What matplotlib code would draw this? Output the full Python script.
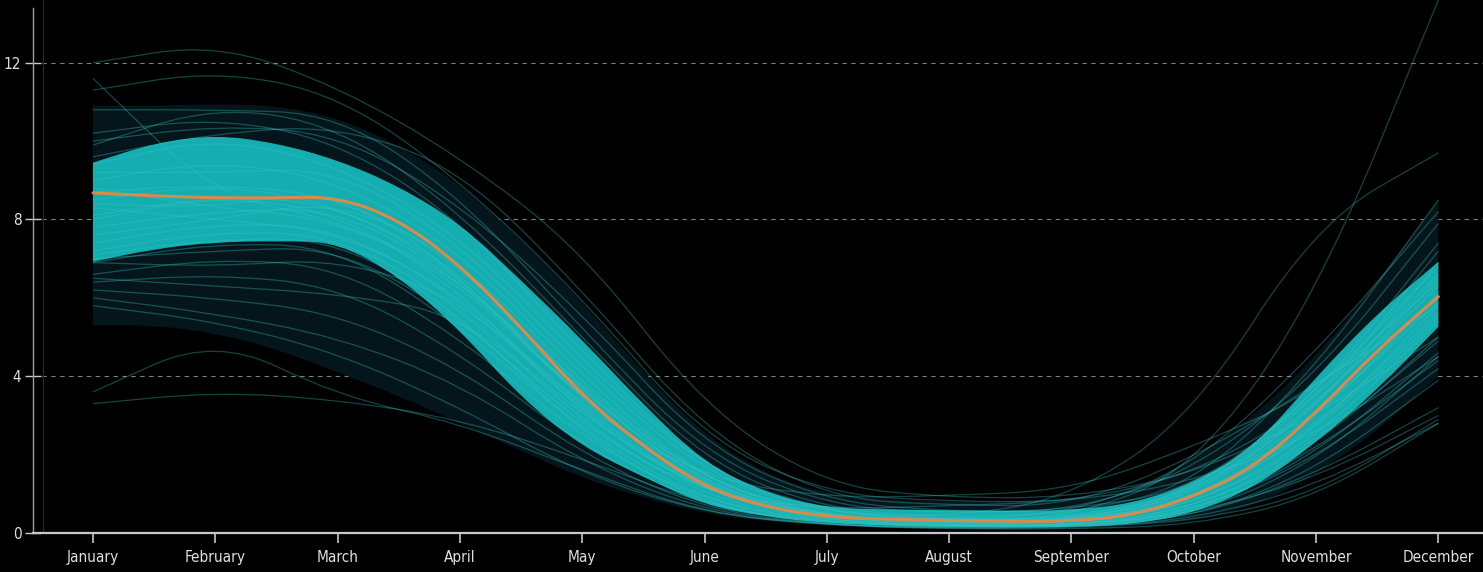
import numpy as np
import matplotlib
matplotlib.use("Agg")
import matplotlib.pyplot as plt
from matplotlib.path import Path
from matplotlib.patches import PathPatch

months = ["January", "February", "March", "April", "May", "June", "July",
          "August", "September", "October", "November", "December"]

# half-month steps for the summary statistics
half_steps = np.arange(0, 11.01, 0.5)

outer_high = [10.9, 10.9, 10.95, 10.9, 10.6, 9.9, 8.9, 7.5, 5.9, 4.1, 2.5, 1.5,
              1.0, 0.85, 0.8, 0.8, 0.85, 1.1, 1.9, 3.0, 4.5, 6.4, 8.5]
outer_low = [5.3, 5.3, 5.1, 4.7, 4.1, 3.5, 2.8, 2.1, 1.4, 0.9, 0.5, 0.3,
             0.18, 0.12, 0.1, 0.1, 0.1, 0.15, 0.3, 0.7, 1.5, 2.6, 4.0]
q75 = [9.45, 9.95, 10.16, 9.95, 9.52, 8.85, 7.9, 6.45, 4.93, 3.27, 1.79, 1.02,
       0.64, 0.6, 0.58, 0.57, 0.58, 0.75, 1.28, 2.2, 3.98, 5.6, 6.92]
median = [8.68, 8.6, 8.55, 8.55, 8.58, 8.0, 6.84, 5.25, 3.5, 2.2, 1.17, 0.66,
          0.41, 0.35, 0.32, 0.3, 0.3, 0.45, 0.92, 1.69, 3.06, 4.67, 6.03]
q25 = [6.92, 7.25, 7.42, 7.45, 7.42, 6.55, 5.18, 3.45, 2.2, 1.43, 0.71, 0.41,
       0.25, 0.18, 0.15, 0.14, 0.15, 0.22, 0.5, 1.17, 2.3, 3.65, 5.26]

# one row per year, monthly values Jan..Dec
years = [
    [12.0, 12.5, 11.4, 9.6, 7.2, 3.2, 1.2, 0.9, 0.9, 1.5, 3.0, 5.0],
    [11.3, 11.8, 11.2, 9.0, 6.0, 2.4, 1.0, 0.8, 0.8, 1.3, 2.5, 4.5],
    [11.6, 8.6, 8.0, 6.5, 3.6, 1.2, 0.4, 0.3, 0.3, 0.8, 2.6, 5.8],
    [10.8, 10.8, 10.7, 8.6, 5.2, 2.0, 0.7, 0.5, 0.6, 1.1, 3.5, 7.4],
    [9.9, 10.9, 10.4, 8.2, 5.0, 1.8, 0.6, 0.4, 0.5, 1.2, 4.2, 8.5],
    [10.2, 10.6, 10.0, 8.0, 4.6, 1.6, 0.5, 0.35, 0.4, 1.0, 3.1, 6.9],
    [9.4, 10.1, 9.4, 7.6, 4.4, 1.6, 0.55, 0.35, 0.35, 0.9, 3.2, 6.5],
    [9.0, 9.5, 9.0, 7.2, 4.0, 1.3, 0.45, 0.3, 0.3, 1.0, 3.6, 6.8],
    [8.7, 8.9, 8.6, 6.9, 3.6, 1.2, 0.4, 0.3, 0.3, 0.8, 2.9, 6.1],
    [8.4, 8.3, 8.8, 6.6, 3.3, 1.1, 0.4, 0.28, 0.3, 0.9, 3.0, 5.9],
    [8.0, 8.6, 8.2, 6.2, 3.0, 1.0, 0.35, 0.25, 0.28, 0.85, 2.7, 5.6],
    [7.6, 8.0, 8.5, 7.0, 3.8, 1.3, 0.4, 0.3, 0.32, 0.95, 3.3, 6.3],
    [7.2, 7.7, 7.6, 5.8, 2.8, 0.9, 0.3, 0.22, 0.25, 0.7, 2.4, 5.4],
    [9.2, 9.2, 9.3, 7.4, 4.2, 1.5, 0.5, 0.32, 0.35, 1.05, 3.4, 6.6],
    [8.8, 8.3, 8.0, 6.4, 3.4, 1.15, 0.42, 0.3, 0.3, 0.75, 2.6, 5.5],
    [6.9, 7.4, 7.3, 5.3, 2.6, 0.8, 0.3, 0.2, 0.2, 0.6, 2.2, 5.0],
    [6.6, 7.0, 6.8, 5.0, 2.4, 0.8, 0.25, 0.2, 0.2, 0.5, 2.0, 4.6],
    [6.4, 6.6, 6.3, 4.6, 2.2, 0.7, 0.25, 0.18, 0.2, 0.55, 1.9, 4.2],
    [6.2, 6.0, 5.6, 4.2, 2.0, 0.6, 0.2, 0.15, 0.15, 0.4, 1.6, 3.9],
    [6.0, 5.6, 5.0, 3.8, 1.8, 0.55, 0.2, 0.15, 0.18, 0.5, 1.4, 3.0],
    [5.8, 5.4, 4.6, 3.2, 1.5, 0.5, 0.2, 0.12, 0.12, 0.35, 1.2, 2.8],
    [6.5, 6.3, 6.1, 5.6, 3.0, 1.0, 0.35, 0.25, 0.25, 0.7, 2.3, 4.9],
    [3.6, 5.0, 3.5, 2.8, 1.6, 0.5, 0.2, 0.12, 0.15, 0.3, 1.0, 2.9],
    [3.3, 3.6, 3.4, 2.9, 1.9, 0.7, 0.25, 0.18, 0.18, 0.4, 1.5, 3.2],
    [6.9, 6.8, 7.0, 6.0, 3.2, 1.0, 0.35, 0.25, 0.25, 0.6, 2.1, 4.4],
    [10.0, 10.4, 10.2, 8.4, 5.6, 2.2, 0.8, 0.55, 0.55, 1.6, 4.0, 7.9],
    [9.6, 10.2, 10.4, 9.3, 6.2, 2.6, 0.9, 0.7, 0.7, 1.9, 3.8, 5.8],
    [7.8, 8.2, 8.3, 6.5, 3.4, 1.1, 0.4, 0.3, 0.4, 1.6, 6.0, 13.6],
    [8.1, 8.6, 8.4, 6.7, 3.7, 1.3, 0.5, 0.4, 0.9, 3.0, 7.9, 9.7],
    [7.4, 7.9, 7.8, 6.0, 3.1, 1.0, 0.4, 0.35, 0.5, 1.7, 4.6, 8.2],
    [8.3, 8.0, 7.7, 6.1, 3.2, 1.4, 0.9, 0.95, 1.1, 2.2, 3.6, 6.4],
    [7.0, 7.2, 7.3, 5.5, 2.7, 1.0, 0.6, 0.7, 0.8, 1.5, 3.3, 7.2],
    [7.1, 7.5, 7.5, 5.6, 2.5, 0.7, 0.2, 0.1, 0.1, 0.2, 0.9, 2.8],
    [8.5, 8.9, 8.4, 6.6, 3.4, 1.0, 0.3, 0.2, 0.2, 0.45, 1.8, 4.5],
]

y_ticks = [0, 4, 8, 12]


def smooth_verts(x, y):
    # quadratic bezier through midpoints, data points act as control points
    p = np.column_stack([x, y])
    mid = (p[:-1] + p[1:]) / 2
    verts = [p[0], mid[0]]
    codes = [Path.MOVETO, Path.LINETO]
    for i in range(1, len(p) - 1):
        verts += [p[i], mid[i]]
        codes += [Path.CURVE3, Path.CURVE3]
    verts.append(p[-1])
    codes.append(Path.LINETO)
    return verts, codes


def band_patch(x, hi, lo, **kw):
    v1, c1 = smooth_verts(x, hi)
    v2, c2 = smooth_verts(x[::-1], lo[::-1])
    c2[0] = Path.LINETO
    verts = v1 + v2 + [v1[0]]
    codes = c1 + c2 + [Path.CLOSEPOLY]
    return PathPatch(Path(verts, codes), **kw)


def line_patch(x, y, **kw):
    v, c = smooth_verts(x, y)
    return PathPatch(Path(v, c), fill=False, **kw)


plt.rcParams["font.family"] = ["DejaVu Sans"]
plt.rcParams["font.stretch"] = "condensed"

fig = plt.figure(figsize=(14.83, 5.72), dpi=100, facecolor="black")
ax = fig.add_axes([0.0223, 0.0682, 0.9777, 0.9318])
ax.set_facecolor("black")

ax.set_xlim(-0.49, 11.365)
ax.set_ylim(0, 13.6)

xs = np.array(half_steps)
ax.add_patch(band_patch(xs, np.array(outer_high), np.array(outer_low),
                        facecolor="#04161b", edgecolor="none", zorder=1))
ax.add_patch(band_patch(xs, np.array(q75), np.array(q25),
                        facecolor="#14adb0", edgecolor="none", zorder=2))

mx = np.arange(len(months), dtype=float)
for yr in years:
    ax.add_patch(line_patch(mx, np.array(yr), edgecolor="#3cc6c6",
                            alpha=0.34, lw=0.9, zorder=3))

ax.add_patch(line_patch(xs, np.array(median), edgecolor="#dc8a4c",
                        lw=2.2, zorder=4, capstyle="round"))

# grid and axes
for t in y_ticks[1:]:
    ax.axhline(t, color="#808080", lw=0.8, ls=(0, (4, 4)), zorder=0)
ax.axvline(-0.41, color="#2a2a2a", lw=0.8, zorder=0)

for s in ["top", "right"]:
    ax.spines[s].set_visible(False)
ax.spines["left"].set_color("#a0a0a0")
ax.spines["left"].set_linewidth(1.0)
ax.spines["left"].set_bounds(0, 13.4)
ax.spines["bottom"].set_color("#c8c8c8")
ax.spines["bottom"].set_linewidth(1.6)

ax.set_xticks(mx)
ax.set_xticklabels(months)
ax.set_yticks(y_ticks)
ax.set_yticklabels([str(t) for t in y_ticks])
ax.tick_params(axis="x", colors="#c8c8c8", labelcolor="#e0e0e0",
               length=7, width=1.2, pad=5, labelsize=11)
ax.tick_params(axis="y", colors="#c8c8c8", labelcolor="#e0e0e0",
               direction="inout", length=11, width=1.0, pad=3, labelsize=11)

fig.savefig("out.png", dpi=100, facecolor="black")
